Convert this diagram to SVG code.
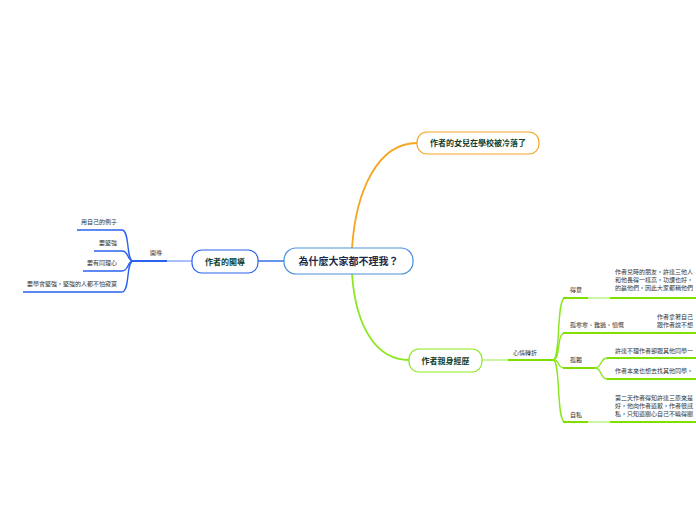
<svg xmlns="http://www.w3.org/2000/svg" width="696" height="520" viewBox="0 0 696 520">
<style>
text{font-family:"Noto Sans CJK TC","Noto Sans CJK SC",sans-serif}
.main{font-size:10px;font-weight:bold;fill:#1c2b4a}
.sub{font-size:8px;font-weight:bold;fill:#10402c}
.lbl{font-size:6px;fill:#333}
.leaf{font-size:6px;fill:#333}
.b{fill:none;stroke:#2a62f0;stroke-width:1.4}
.bt{fill:none;stroke:#2a62f0;stroke-width:2}
.bp{fill:none;stroke:#a9c0fb;stroke-width:2}
.g{fill:none;stroke:#8be81e;stroke-width:1.4}
.gt{fill:none;stroke:#7fe000;stroke-width:2}
.gp{fill:none;stroke:#cdf5a6;stroke-width:2}
</style>
<rect width="696" height="520" fill="#fff"/>
<g id="connectors">
  <path d="M352,248 C356,190 378,143 417,143" fill="none" stroke="#f5a623" stroke-width="1.8"/>
  <path d="M352,274 C356,330 378,360 409,360" fill="none" stroke="#8be81e" stroke-width="1.8"/>
  <path d="M284,261 H258" fill="none" stroke="#3f7ae8" stroke-width="1.6"/>
  <path class="bp" d="M192,261 H167"/>
  <path class="bt" d="M167,261 H133"/>
  <path class="b" d="M77,230 H122 C130,230 126,261 133,261"/>
  <path class="b" d="M94,251 H122 C129,251 127,261 133,261"/>
  <path class="b" d="M83,271 H122 C129,271 127,261 133,261"/>
  <path class="b" d="M23,292 H122 C130,292 126,261 133,261"/>
  <path class="gp" d="M482,360 H508"/>
  <path class="gt" d="M508,360 H553"/>
  <path class="g" d="M553,360 C561,360 556,298 565,298"/>
  <path class="g" d="M553,360 C561,360 556,333 565,333"/>
  <path class="g" d="M553,360 C561,360 556,368 565,368"/>
  <path class="g" d="M553,360 C561,360 556,422 565,422"/>
  <path class="gt" d="M563,298 H588"/>
  <path class="gp" d="M588,298 H610"/>
  <path class="gt" d="M610,298 H696"/>
  <path class="gt" d="M563,333 H696"/>
  <path class="gt" d="M563,368 H595"/>
  <path class="g" d="M595,368 C602,368 600,358 607,358"/>
  <path class="g" d="M595,368 C602,368 600,379 607,379"/>
  <path class="gt" d="M607,358 H696"/>
  <path class="gt" d="M607,379 H696"/>
  <path class="gt" d="M563,422 H588"/>
  <path class="gp" d="M588,422 H610"/>
  <path class="gt" d="M610,422 H696"/>
</g>
<g id="center">
  <rect x="284" y="248" width="129" height="26" rx="12" fill="#fff" stroke="#4a90d9" stroke-width="1.2"/>
  <text class="main" x="348.5" y="264.5" text-anchor="middle">為什麼大家都不理我？</text>
</g>
<g id="top">
  <rect x="417" y="132" width="122" height="22" rx="10" fill="#fff" stroke="#f5a623" stroke-width="1.2"/>
  <text class="sub" x="478" y="146" text-anchor="middle">作者的女兒在學校被冷落了</text>
</g>
<g id="guide">
  <rect x="192" y="250" width="66" height="23" rx="10" fill="#fff" stroke="#2a62f0" stroke-width="1.2"/>
  <text class="sub" x="225" y="264.5" text-anchor="middle">作者的開導</text>
</g>
<g id="experience">
  <rect x="409" y="349" width="73" height="23" rx="10" fill="#fff" stroke="#8be81e" stroke-width="1.2"/>
  <text class="sub" x="445.5" y="363.5" text-anchor="middle">作者親身經歷</text>
</g>
<g id="guide-label"><text class="lbl" x="150" y="255">開導</text></g>
<g id="c1"><text class="lbl" x="117" y="224" text-anchor="end">用自己的例子</text></g>
<g id="c2"><text class="lbl" x="117" y="245" text-anchor="end">要堅強</text></g>
<g id="c3"><text class="lbl" x="117" y="265" text-anchor="end">要有同理心</text></g>
<g id="c4"><text class="lbl" x="117" y="286" text-anchor="end">要學會堅強，堅強的人都不怕寂寞</text></g>
<g id="mood"><text class="lbl" x="513" y="355">心情轉折</text></g>
<g id="m1"><text class="lbl" x="570" y="292">得意</text></g>
<g id="m1-leaf">
  <text class="leaf" x="615" y="274">作者兒時的朋友，許達三他人</text>
  <text class="leaf" x="615" y="282">和他長得一樣高，功課也好，</text>
  <text class="leaf" x="615" y="290">的贏他們，因此大家都稱他們</text>
</g>
<g id="m2"><text class="lbl" x="570" y="327">孤零零、難過、憤慨</text></g>
<g id="m2-leaf">
  <text class="leaf" x="657" y="319">作者拿著自己</text>
  <text class="leaf" x="657" y="327">跟作者說不想</text>
</g>
<g id="m3"><text class="lbl" x="570" y="362">孤獨</text></g>
<g id="m3-leaf1"><text class="leaf" x="615" y="353">許達不理作者卻跟其他同學一</text></g>
<g id="m3-leaf2"><text class="leaf" x="615" y="373">作者本來也想去找其他同學，</text></g>
<g id="m4"><text class="lbl" x="570" y="417">自私</text></g>
<g id="m4-leaf">
  <text class="leaf" x="615" y="400">第二天作者得知許達三原來是</text>
  <text class="leaf" x="615" y="408">好，他向作者道歉，作者很感</text>
  <text class="leaf" x="615" y="416">私，只知道關心自己不曉得關</text>
</g>
</svg>
